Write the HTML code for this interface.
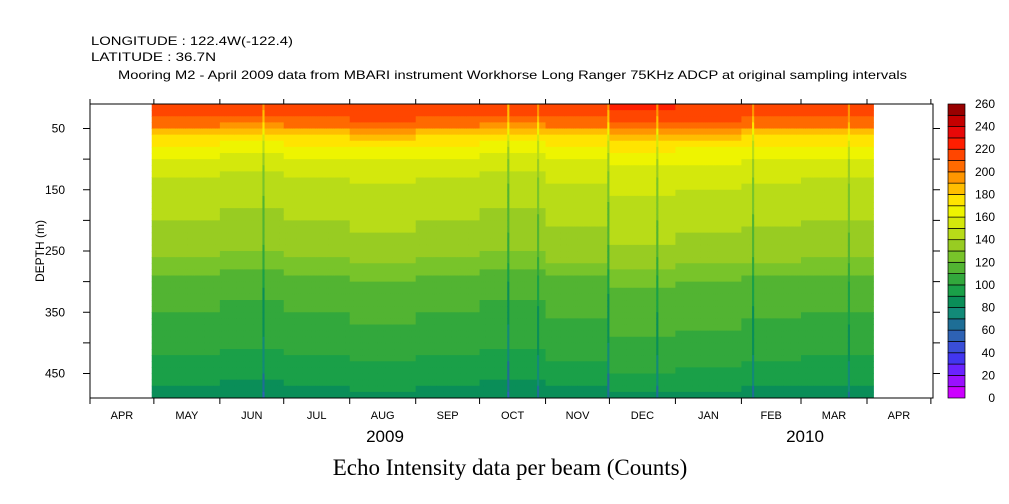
<!DOCTYPE html>
<html><head><meta charset="utf-8"><style>
html,body{margin:0;padding:0;background:#fff;}
svg{display:block;font-family:"Liberation Sans",sans-serif;}
</style></head><body>
<svg id="chart" width="1009" height="504" viewBox="0 0 1009 504">
<text x="91" y="45" font-size="12" textLength="202" lengthAdjust="spacingAndGlyphs">LONGITUDE : 122.4W(-122.4)</text>
<text x="91" y="61" font-size="12" textLength="125" lengthAdjust="spacingAndGlyphs">LATITUDE : 36.7N</text>
<text x="118" y="79" font-size="12" textLength="789" lengthAdjust="spacingAndGlyphs">Mooring M2 - April 2009 data from MBARI instrument Workhorse Long Ranger 75KHz ADCP at original sampling intervals</text>
<g id="cells"></g>
<rect x="90" y="104" width="843" height="294" fill="none" stroke="#000" stroke-width="1"/>
<g id="axes"></g>
<g id="cbar"></g>
<text x="385" y="442" font-size="17" text-anchor="middle">2009</text>
<text x="805" y="442" font-size="17" text-anchor="middle">2010</text>
<text x="44" y="251" font-size="12" text-anchor="middle" transform="rotate(-90 44 251)">DEPTH (m)</text>
<text x="510" y="475" font-size="23" text-anchor="middle" font-family="Liberation Serif, serif">Echo Intensity data per beam (Counts)</text>
</svg>
<script>
// depth profile (m) and mean echo intensity (counts)
const depths = [10, 30, 45, 60, 75, 90, 110, 140, 180, 230, 270, 300, 350, 400, 440, 470, 490];
const profile = [218, 212, 200, 182, 170, 163, 156, 148, 143, 136, 128, 116, 110, 104, 97, 90, 82];
// monthly offsets, May 2009 .. Mar 2010
const months = ["MAY","JUN","JUL","AUG","SEP","OCT","NOV","DEC","JAN","FEB","MAR"];
const monthOffset = [0, -3, 0, 2, 0, -3, 1, 5, 3, 1, 0];
// dark streak days (days since 1 Apr 2009)
const streakDays = [81, 196, 210, 243, 266, 311, 356];
const streakDrop = [-22, -25, -18, -25, -25, -22, -18];
const tickLabels = ["APR","MAY","JUN","JUL","AUG","SEP","OCT","NOV","DEC","JAN","FEB","MAR","APR"];
const monthDays = [30,31,30,31,31,30,31,30,31,31,28,31,30];
const depthTicks = [50,100,150,200,250,300,350,400,450];
const depthLabels = [50,150,250,350,450];
const cbarLevels = [0,20,40,60,80,100,120,140,160,180,200,220,240,260];
const palette = ["#cc00ff","#9a10ff","#6a22ff","#4236f0","#3a4ed8","#2e62b4","#1e6e96","#128a78","#0a8e58","#1aa048","#32a83c","#52b432","#78c42a","#98cc22","#b8dc18","#d4e80c","#eef400","#ffe400","#ffbe00","#ff9600","#ff6a00","#ff4600","#ff1e00","#e80808","#c40000","#980000"];
const dataStart = 29, dataEnd = 368;

const NS="http://www.w3.org/2000/svg";
const X0=90, X1=933, Y0=104, Y1=398, DMIN=10, DMAX=490, DAYS=396;
const xs = d => X0 + d*(X1-X0)/DAYS;
const ys = z => Y0 + (z-DMIN)*(Y1-Y0)/(DMAX-DMIN);
function prof(z){for(let i=0;i<depths.length-1;i++){if(z<=depths[i+1]){const t=(z-depths[i])/(depths[i+1]-depths[i]);return profile[i]+t*(profile[i+1]-profile[i]);}}return profile[profile.length-1];}
const monthStart=[0];for(const m of monthDays)monthStart.push(monthStart[monthStart.length-1]+m);
function mOff(d){for(let i=1;i<monthStart.length-1;i++){if(d<monthStart[i+1])return monthOffset[Math.min(i-1,monthOffset.length-1)]||0;}return 0;}
function color(v){let i=Math.floor(v/10);i=Math.max(0,Math.min(palette.length-1,i));return palette[i];}
function el(tag,attrs,parent){const e=document.createElementNS(NS,tag);for(const k in attrs)e.setAttribute(k,attrs[k]);parent.appendChild(e);return e;}

const cells=document.getElementById('cells');
for(let d=dataStart; d<dataEnd; d++){
  let s=0; streakDays.forEach((sd,i)=>{if(sd===d)s=streakDrop[i];});
  for(let z=DMIN; z<DMAX; z+=10){
    let v=prof(z+5)+mOff(d)+s;
    const r=el('rect',{x:xs(d),y:ys(z),width:xs(d+1)-xs(d)+0.5,height:ys(z+10)-ys(z)+0.5,fill:color(v)},cells);
    
    
  }
}
const axes=document.getElementById('axes');
monthStart.forEach((d,i)=>{
  const x=xs(d); if(x>X1+1)return;
  const t1=el('line',{x1:x,x2:x,y1:Y1,y2:Y1+6,stroke:'#000'},axes);
  
  
  const t2=el('line',{x1:x,x2:x,y1:Y0,y2:Y0-5,stroke:'#000'},axes);
  
  
  if(i<tickLabels.length){
    const end=Math.min(X1,xs(d+monthDays[i]));
    const tx=el('text',{x:(x+end)/2,y:419,'font-size':11,'text-anchor':'middle'},axes);
    tx.textContent=tickLabels[i];
    
    
  }
});
depthTicks.forEach(z=>{
  const y=ys(z);
  const a=el('line',{x1:X0-7,x2:X0,y1:y,y2:y,stroke:'#000'},axes);
  
  
  const b=el('line',{x1:X1,x2:X1+7,y1:y,y2:y,stroke:'#000'},axes);
  
  
});
depthLabels.forEach(z=>{
  const t=el('text',{x:65,y:ys(z)+4,'font-size':12,'text-anchor':'end'},axes);
  t.textContent=z;
  
  
});
const cbar=document.getElementById('cbar');
const CX=948, CW=17, bh=(Y1-Y0)/palette.length;
palette.forEach((c,i)=>{
  const r=el('rect',{x:CX,y:Y1-(i+1)*bh,width:CW,height:bh,fill:c,stroke:'#000','stroke-width':0.7},cbar);
  
  
});
cbarLevels.forEach(v=>{
  const t=el('text',{x:995,y:Y1-(v/10)*bh+4,'font-size':12,'text-anchor':'end'},cbar);
  t.textContent=v;
  
  
});
</script>
</body></html>
